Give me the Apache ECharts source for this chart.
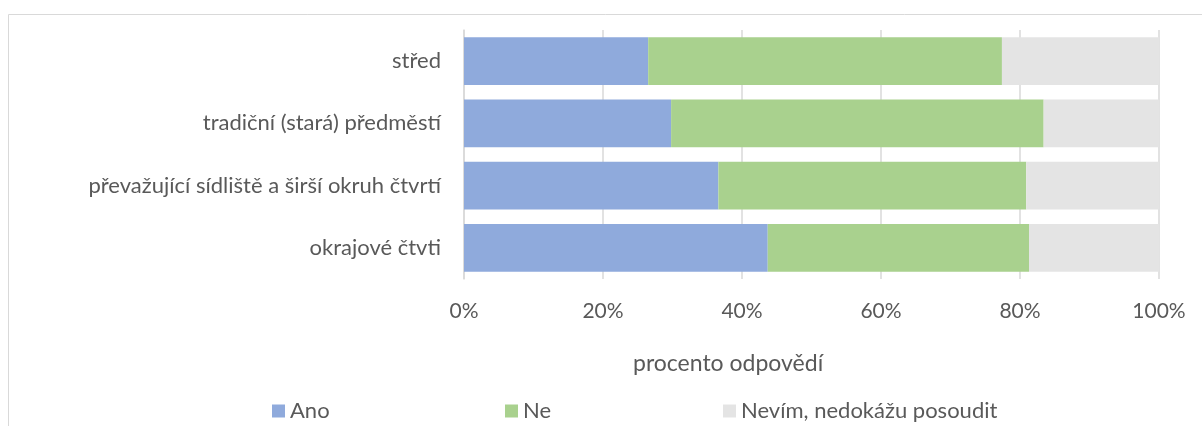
<!DOCTYPE html>
<html><head><meta charset="utf-8">
<script src="https://cdn.jsdelivr.net/npm/echarts@6/dist/echarts.min.js"></script>
<style>html,body{margin:0;padding:0;background:#fff}#c{width:1202px;height:426px}</style>
</head><body><div id="c"></div>
<script>
const categories = ['střed', 'tradiční (stará) předměstí', 'převažující sídliště a širší okruh čtvrtí', 'okrajové čtvti'];
const ano = [26.5, 29.8, 36.6, 43.7];
const ne = [50.9, 53.6, 44.3, 37.6];
const nevim = [22.6, 16.6, 19.1, 18.7];
const xTicks = [0, 20, 40, 60, 80, 100];
const seriesNames = ['Ano', 'Ne', 'Nevím, nedokážu posoudit'];
const colors = ['#8FAADC', '#A9D18E', '#E4E4E4'];
const axisTitle = 'procento odpovědí';

const FONT = 'Lato';
const TXT = '#595959';
const chart = echarts.init(document.getElementById('c'));
const legendLefts = [272, 505, 723];
chart.setOption({
  animation: false,
  textStyle: { fontFamily: FONT },
  graphic: [{
    type: 'rect', shape: { x: 8.5, y: 14.5, width: 1300, height: 500 },
    style: { fill: 'none', stroke: '#D9D9D9', lineWidth: 1 }, silent: true
  }, {
    type: 'text', left: 732 - 99, top: 352,
    style: { text: axisTitle, fontFamily: FONT, fontSize: 23, fill: TXT, width: 198, align: 'center' }, silent: true
  }],
  legend: seriesNames.map((n, i) => ({
    data: [n], left: legendLefts[i], top: 400, padding: 0, icon: 'rect', itemWidth: 13, itemHeight: 13, itemGap: 6,
    textStyle: { fontFamily: FONT, fontSize: 22, color: TXT }
  })),
  grid: { left: 464, right: 43, top: 30, bottom: 147 },
  xAxis: {
    type: 'value', min: 0, max: 100, interval: 20,
    axisLine: { show: false }, axisTick: { show: false },
    axisLabel: { formatter: v => xTicks.includes(v) ? v + '%' : '', fontFamily: FONT, fontSize: 21, color: TXT, margin: 22 },
    splitLine: { show: true, lineStyle: { color: '#D9D9D9', width: 1.5 } }
  },
  yAxis: {
    type: 'category', data: categories, inverse: true,
    axisLine: { show: true, lineStyle: { color: '#D9D9D9', width: 1.5 } },
    axisTick: { show: false },
    axisLabel: { fontFamily: FONT, fontSize: 22, color: TXT, margin: 23 }
  },
  series: [ano, ne, nevim].map((d, i) => ({
    name: seriesNames[i], type: 'bar', stack: 'total', data: d,
    barCategoryGap: '23%', itemStyle: { color: colors[i] }
  }))
});
</script></body></html>
